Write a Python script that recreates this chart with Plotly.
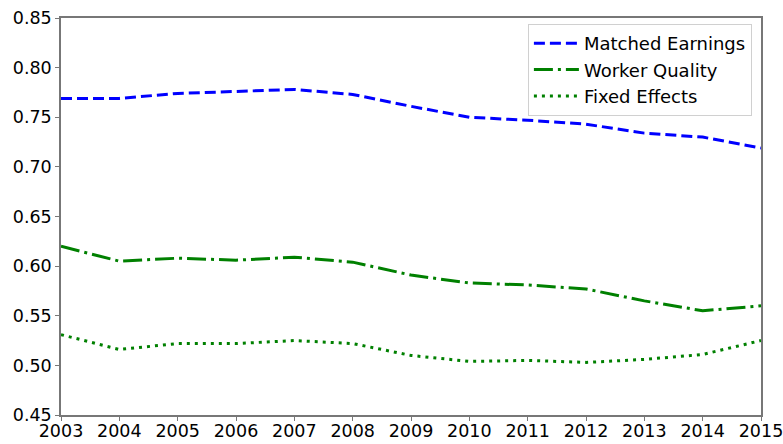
import plotly.graph_objects as go

years = list(range(2003, 2016))
matched_earnings = [0.769, 0.769, 0.774, 0.776, 0.778, 0.773, 0.761, 0.750, 0.747, 0.743, 0.734, 0.730, 0.719]
worker_quality = [0.620, 0.605, 0.608, 0.606, 0.609, 0.604, 0.591, 0.583, 0.581, 0.577, 0.565, 0.555, 0.560]
fixed_effects = [0.531, 0.516, 0.522, 0.522, 0.525, 0.522, 0.510, 0.504, 0.505, 0.503, 0.506, 0.511, 0.525]
y_ticks = [0.45, 0.50, 0.55, 0.60, 0.65, 0.70, 0.75, 0.80, 0.85]

fig = go.Figure()
fig.add_trace(go.Scatter(x=years, y=matched_earnings, mode="lines", name="Matched Earnings",
                         line=dict(color="#0000ff", width=3, dash="11px,5px")))
fig.add_trace(go.Scatter(x=years, y=worker_quality, mode="lines", name="Worker Quality",
                         line=dict(color="#008000", width=3, dash="19px,5px,3px,5px")))
fig.add_trace(go.Scatter(x=years, y=fixed_effects, mode="lines", name="Fixed Effects",
                         line=dict(color="#008000", width=3, dash="3px,5px")))

fig.update_layout(
    width=783, height=444,
    margin=dict(l=61, r=22, t=18, b=29),
    paper_bgcolor="white", plot_bgcolor="white",
    font=dict(family="DejaVu Sans", size=17.5, color="black"),
    legend=dict(x=0.987, y=0.985, xanchor="right", yanchor="top",
                bgcolor="rgba(255,255,255,0.8)", bordercolor="#d0d0d0", borderwidth=1,
                font=dict(size=18), tracegroupgap=0, itemwidth=45),
    showlegend=True,
)
fig.update_xaxes(range=[2003, 2015], tickmode="array", tickvals=years,
                 ticktext=[str(y) for y in years], automargin=False, ticklabeloverflow="allow",
                 ticklabelstandoff=-5,
                 showgrid=False, zeroline=False, showline=True, linecolor="#777777", linewidth=1.5,
                 mirror=True, ticks="outside", ticklen=4, tickcolor="#777777")
fig.update_yaxes(range=[0.45, 0.85], tickmode="array", tickvals=y_ticks,
                 ticktext=[f"{v:.2f}" for v in y_ticks], automargin=False, ticklabeloverflow="allow",
                 showgrid=False, zeroline=False, showline=True, linecolor="#777777", linewidth=1.5,
                 mirror=True, ticks="outside", ticklen=4, tickcolor="#777777")

fig.write_html("out.html", config={"displayModeBar": False},
               post_script="document.body.style.margin='0';document.body.style.overflow='hidden';")
